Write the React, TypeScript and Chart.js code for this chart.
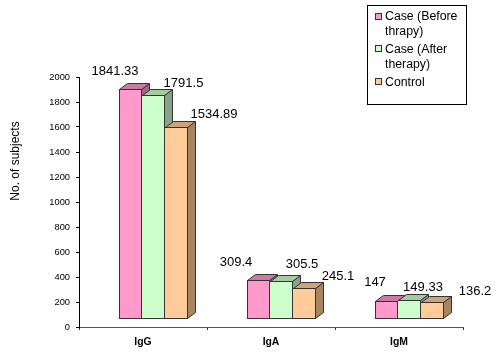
import React, { useEffect, useRef } from "react";
import { Chart, registerables } from "chart.js";

Chart.register(...registerables);

const categories = ["IgG", "IgA", "IgM"];
const seriesNames = ["Case (Before thrapy)", "Case (After therapy)", "Control"];
const legendLines = [["Case (Before", "thrapy)"], ["Case (After", "therapy)"], ["Control"]];
const caseBefore = [1841.33, 309.4, 147];
const caseAfter = [1791.5, 305.5, 149.33];
const control = [1534.89, 245.1, 136.2];
const yTickMax = 2000;
const yTickStep = 200;
const yTitle = "No. of subjects";

const FONT = '"Liberation Sans", Arial, sans-serif';
const frontColors = ["#FF99CC", "#CCFFCC", "#FFCC99"];
const topColors = ["#CC7AA3", "#A3CCA3", "#CCA37A"];
const sideColors = ["#A66385", "#85A685", "#A68563"];
const edge = "#333333";
const DEPTH_X = 8;
const DEPTH_Y = 6;
const SHIFT_X = 10.5;
const SHIFT_Y = -8;
const labelOffsets = [
  [[-15.5, -18], [-22.5, -18], [-11.5, -18.6]],
  [[30, -12], [20.5, -17], [13.5, -13]],
  [[37.5, -13], [33.5, -12], [42.5, -11]],
];

const face = (ctx: CanvasRenderingContext2D, pts: number[][], fill: string) => {
  ctx.beginPath();
  pts.forEach(([x, y], i) => (i ? ctx.lineTo(x, y) : ctx.moveTo(x, y)));
  ctx.closePath();
  ctx.fillStyle = fill;
  ctx.fill();
  ctx.lineWidth = 1;
  ctx.strokeStyle = edge;
  ctx.stroke();
};

const bars3d = {
  id: "bars3d",
  afterDatasetsUpdate(chart: any) {
    chart.data.datasets.forEach((_: any, i: number) => {
      chart.getDatasetMeta(i).data.forEach((el: any) => {
        el.x += SHIFT_X;
        el.y = Math.round(el.y + SHIFT_Y);
        el.base = Math.round(el.base + SHIFT_Y);
      });
    });
  },
  // The series run left to right and each hides the side of the one before it,
  // so they are painted first to last here instead of the library's last to first.
  beforeDatasetsDraw(chart: any) {
    const ctx = chart.ctx;
    chart.data.datasets.forEach((_: any, i: number) => {
      const meta = chart.getDatasetMeta(i);
      ctx.save();
      meta.data.forEach((el: any) => {
        const l = Math.round(el.x - el.width / 2) + 0.5;
        const r = Math.round(el.x + el.width / 2) - 0.5;
        const t = el.y + 0.5;
        const b = el.base - 0.5;
        face(ctx, [[r, t], [r + DEPTH_X, t - DEPTH_Y], [r + DEPTH_X, b - DEPTH_Y], [r, b]], sideColors[i]);
        face(ctx, [[l, t], [l + DEPTH_X, t - DEPTH_Y], [r + DEPTH_X, t - DEPTH_Y], [r, t]], topColors[i]);
      });
      ctx.restore();
      meta.controller.draw();
    });
  },
  beforeDatasetDraw() {
    return false;
  },
  afterDatasetsDraw(chart: any) {
    const ctx = chart.ctx;
    ctx.save();
    ctx.font = `13px ${FONT}`;
    ctx.fillStyle = "#000000";
    ctx.textAlign = "center";
    ctx.textBaseline = "middle";
    chart.data.datasets.forEach((ds: any, i: number) => {
      chart.getDatasetMeta(i).data.forEach((el: any, j: number) => {
        const [dx, dy] = labelOffsets[i][j];
        ctx.fillText(String(ds.data[j]), el.x + dx, el.y + dy);
      });
    });
    ctx.restore();
  },
  afterDraw(chart: any) {
    const ctx = chart.ctx;
    ctx.save();
    ctx.font = `12px ${FONT}`;
    ctx.fillStyle = "#000000";
    ctx.textAlign = "center";
    ctx.textBaseline = "middle";
    ctx.translate(16, 161);
    ctx.rotate(-Math.PI / 2);
    ctx.fillText(yTitle, 0, 0);
    ctx.restore();

    ctx.save();
    ctx.fillStyle = "#FFFFFF";
    ctx.strokeStyle = "#000000";
    ctx.lineWidth = 1;
    ctx.fillRect(367.5, 5.5, 99, 99);
    ctx.strokeRect(367.5, 5.5, 99, 99);
    ctx.font = `12.3px ${FONT}`;
    ctx.textBaseline = "middle";
    ctx.textAlign = "left";
    let y = 16;
    legendLines.forEach((lines, i) => {
      const box = Math.round(y - 3.5) + 0.5;
      ctx.fillStyle = frontColors[i];
      ctx.strokeStyle = edge;
      ctx.fillRect(375.5, box, 6, 6);
      ctx.strokeRect(375.5, box, 6, 6);
      ctx.fillStyle = "#000000";
      lines.forEach((line, k) => ctx.fillText(line, 385, y + 1 + k * 14.7));
      y += lines.length * 14.7 + 3.5;
    });
    ctx.restore();
  },
};

export default function App() {
  const ref = useRef<HTMLCanvasElement>(null);
  useEffect(() => {
    const series = [caseBefore, caseAfter, control];
    const chart = new Chart(ref.current as HTMLCanvasElement, {
      type: "bar",
      data: {
        labels: categories,
        datasets: series.map((data, i) => ({
          label: seriesNames[i],
          data,
          backgroundColor: frontColors[i],
          borderColor: edge,
          borderWidth: 1,
          borderSkipped: i === 0 ? false : "left",
          categoryPercentage: 69 / 128,
          barPercentage: 1,
        })),
      },
      options: {
        responsive: false,
        animation: false,
        layout: { padding: { top: 77, right: 37, left: 0, bottom: 0 } },
        plugins: { legend: { display: false }, tooltip: { enabled: false } },
        scales: {
          x: {
            afterFit: (s: any) => { s.height = 32; },
            grid: { drawOnChartArea: false, tickLength: 3, color: "#333333" },
            border: { color: "#555555", width: 1 },
            ticks: { color: "#000000", padding: 6, maxRotation: 0, font: { family: FONT, size: 10.4, weight: "bold" } },
          },
          y: {
            min: 0,
            max: yTickMax,
            afterFit: (s: any) => { s.width = 79; },
            grid: { drawOnChartArea: false, tickLength: 3, color: "#000000" },
            border: { color: "#000000", width: 1 },
            ticks: { stepSize: yTickStep, color: "#000000", padding: 6, font: { family: FONT, size: 9.3 }, callback: (v: any) => String(v) },
          },
        },
      },
      plugins: [bars3d],
    } as any);
    return () => chart.destroy();
  }, []);
  return (
    <div style={{ position: "fixed", left: 0, top: 0, width: 500, height: 359, background: "#fff" }}>
      <canvas ref={ref} width={500} height={359} style={{ display: "block" }} />
    </div>
  );
}
